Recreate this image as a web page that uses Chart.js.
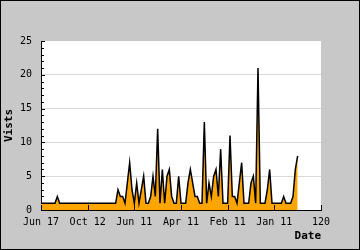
<!DOCTYPE html>
<html>
<head>
<meta charset="utf-8">
<script src="https://cdn.jsdelivr.net/npm/chart.js@4.4.1/dist/chart.umd.min.js"></script>
<style>
	html, body { margin: 0; padding: 0; background: #c8c8c8; }
	#wrap { width: 360px; height: 250px; }
</style>
</head>
<body>
<div id="wrap"><canvas id="chart" width="360" height="250"></canvas></div>
<script>
// tick labels shown along the date axis (every 20 days)
const tickLabels = ['Jun 17', 'Oct 12', 'Jun 11', 'Apr 11', 'Feb 11', 'Jan 11', '120'];

// visits per day
const visits = [
	1, 1, 1, 1, 1, 1, 1, 2, 1, 1,
	1, 1, 1, 1, 1, 1, 1, 1, 1, 1,
	1, 1, 1, 1, 1, 1, 1, 1, 1, 1,
	1, 1, 1, 3, 2, 2, 1, 4, 7, 3,
	1, 4, 1, 3, 5, 1, 1, 2, 5, 2,
	12, 1, 6, 1, 5, 6, 2, 1, 1, 5,
	1, 1, 1, 4, 6, 4, 2, 2, 1, 1,
	13, 1, 4, 2, 5, 6, 2, 9, 1, 1,
	1, 11, 2, 2, 1, 4, 7, 1, 1, 1,
	4, 5, 1, 21, 1, 1, 1, 3, 6, 1,
	1, 1, 1, 1, 2, 1, 1, 1, 2, 6,
	8
];

const points = visits.map((v, i) => ({ x: i, y: v }));

const monoFont = 'DejaVu Sans Mono';

// grey frame, white plot area, black outline
const framePlugin = {
	id: 'frame',
	beforeDraw: (chart) => {
		const ctx = chart.ctx;
		const a = chart.chartArea;
		ctx.save();
		ctx.fillStyle = '#c8c8c8';
		ctx.fillRect(0, 0, chart.width, chart.height);
		ctx.fillStyle = '#ffffff';
		ctx.fillRect(a.left, a.top, a.right - a.left, a.bottom - a.top);
		ctx.strokeStyle = '#000000';
		ctx.lineWidth = 1;
		ctx.strokeRect(0.5, 0.5, chart.width - 1, chart.height - 1);
		ctx.restore();
	}
};

// small tick marks drawn inside the plot, like the original
const tickPlugin = {
	id: 'innerTicks',
	afterDatasetsDraw: (chart) => {
		const ctx = chart.ctx;
		const x = chart.scales.x;
		const y = chart.scales.y;
		ctx.save();
		ctx.strokeStyle = '#000000';
		ctx.lineWidth = 1;
		ctx.beginPath();
		for (let v = 0; v <= 25; v++) {
			const py = Math.round(y.getPixelForValue(v)) + 0.5;
			const len = v % 5 === 0 ? 4 : 3;
			ctx.moveTo(x.left, py);
			ctx.lineTo(x.left + len, py);
		}
		x.ticks.forEach((t) => {
			const px = Math.round(x.getPixelForValue(t.value)) + 0.5;
			ctx.moveTo(px, y.bottom);
			ctx.lineTo(px, y.bottom - 5);
		});
		ctx.stroke();
		ctx.restore();
	}
};

new Chart(document.getElementById('chart'), {
	type: 'line',
	data: {
		datasets: [
			{
				label: 'Visits',
				data: points,
				borderColor: '#000000',
				borderWidth: 1.5,
				backgroundColor: '#ffa500',
				fill: 'origin',
				pointRadius: 0,
				tension: 0,
			},
		],
	},
	options: {
		responsive: false,
		animation: false,
		devicePixelRatio: 1,
		layout: { padding: { left: 0, top: 41, right: 39, bottom: 0 } },
		plugins: { legend: { display: false }, tooltip: { enabled: false } },
		scales: {
			x: {
				type: 'linear',
				min: 0,
				max: 120,
				afterFit: (scale) => { scale.height = 40; },
				grid: { display: false, drawTicks: false },
				border: { display: true, color: '#000000', width: 1 },
				ticks: {
					stepSize: 20,
					autoSkip: false,
					maxRotation: 0,
					padding: 6,
					color: '#000000',
					font: { family: monoFont, size: 10 },
					callback: (value, index) => tickLabels[index],
				},
				title: {
					display: true,
					text: 'Date',
					align: 'end',
					color: '#000000',
					font: { family: monoFont, size: 11, weight: 'bold' },
					padding: { top: 0, bottom: 7 },
				},
			},
			y: {
				min: 0,
				max: 25,
				afterFit: (scale) => { scale.width = 41; },
				grid: {
					drawTicks: false,
					color: (c) => (c.tick && c.tick.value > 0 && c.tick.value < 25 ? '#d9d9d9' : 'rgba(0,0,0,0)'),
				},
				border: { display: true, color: '#000000', width: 1 },
				ticks: {
					stepSize: 5,
					padding: 9,
					color: '#000000',
					font: { family: monoFont, size: 10 },
				},
				title: {
					display: true,
					text: 'Vists',
					color: '#000000',
					font: { family: monoFont, size: 11, weight: 'bold' },
					padding: { top: 3, bottom: 0 },
				},
			},
		},
	},
	plugins: [framePlugin, tickPlugin],
});
</script>
</body>
</html>
